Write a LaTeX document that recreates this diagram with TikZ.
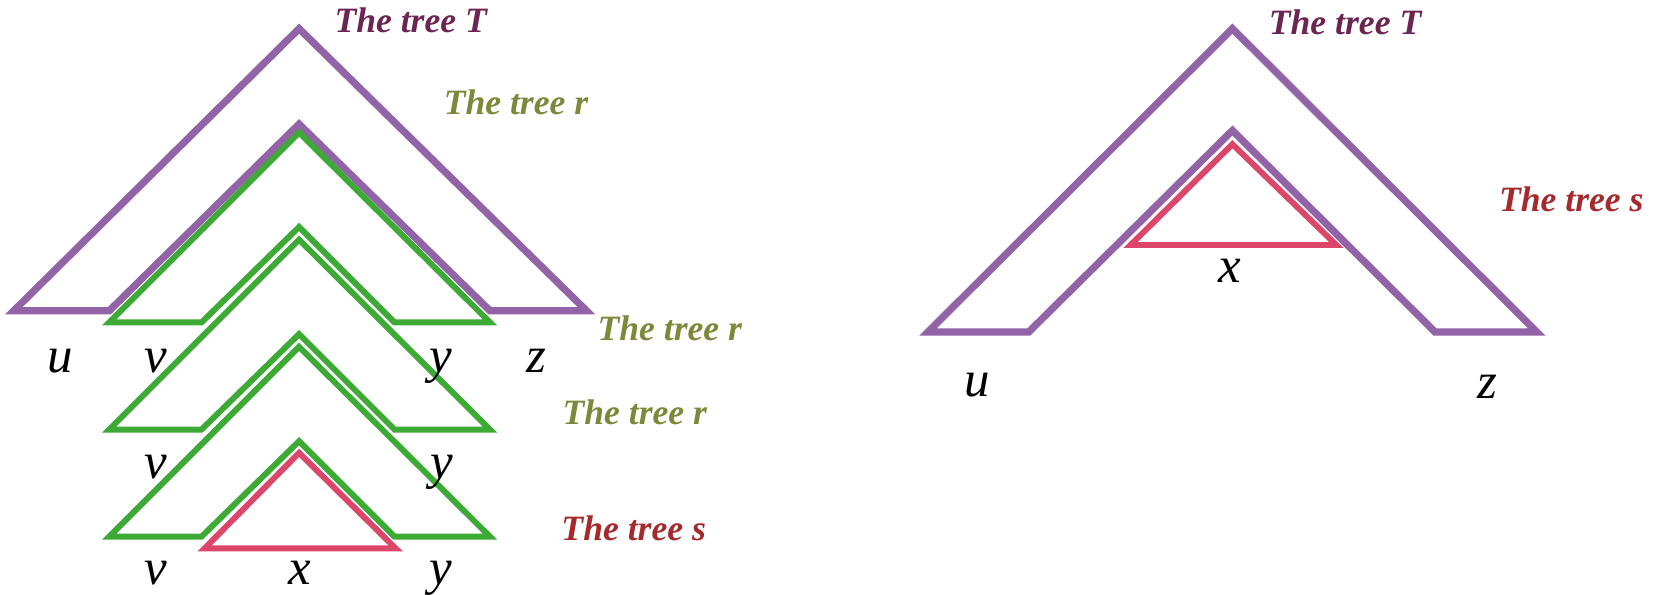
\documentclass[tikz,border=0pt]{standalone}
\usepackage{fontspec}
\setmainfont{Liberation Serif}
\definecolor{treeP}{RGB}{146,99,166}
\definecolor{treeG}{RGB}{61,170,53}
\definecolor{treeR}{RGB}{219,70,106}
\definecolor{labT}{RGB}{107,37,82}
\definecolor{labR}{RGB}{122,138,58}
\definecolor{labS}{RGB}{165,42,46}
\begin{document}
\begin{tikzpicture}[x=0.5pt,y=-0.5pt,line join=miter]
\tikzset{
  purp/.style={draw=treeP,line width=3.4pt},
  grn/.style={draw=treeG,line width=2.8pt},
  redl/.style={draw=treeR,line width=2.8pt},
  lab/.style={font=\fontsize{16.8}{20}\selectfont\bfseries\itshape,inner sep=0pt,anchor=base west},
  lett/.style={font=\fontsize{24}{28}\selectfont\itshape,inner sep=0pt,anchor=base}
}
\useasboundingbox (0,0) rectangle (1568,561);
% left figure
\draw[purp] (13,293) -- (282,27) -- (553,293) -- (462,293) -- (282,117) -- (103,293) -- cycle;
\draw[grn] (103,304) -- (282,125) -- (462,304) -- (372,304) -- (282,214) -- (190,304) -- cycle;
\draw[grn] (103,405) -- (282,226) -- (462,405) -- (372,405) -- (282,315) -- (190,405) -- cycle;
\draw[grn] (103,506) -- (282,327) -- (462,506) -- (372,506) -- (282,416) -- (190,506) -- cycle;
\draw[redl] (193,517) -- (282,427) -- (373,517) -- cycle;
\node[lab,text=labT] (lT) at (315,31) {The tree T};
\node[lab,text=labR] (lr1) at (418,108) {The tree r};
\node[lab,text=labR] (lr2) at (563,321) {The tree r};
\node[lab,text=labR] (lr3) at (530,400) {The tree r};
\node[lab,text=labS] (ls) at (529,510) {The tree s};
\node[lett] (u1) at (57,351) {u};
\node[lett] (v1) at (147,351) {v};
\node[lett] (y1) at (416,351) {y};
\node[lett] (z1) at (506,351) {z};
\node[lett] (v2) at (147,451) {v};
\node[lett] (y2) at (417,451) {y};
\node[lett] (v3) at (147,551) {v};
\node[lett] (x3) at (283,551) {x};
\node[lett] (y3) at (416,551) {y};
% right figure
\draw[purp] (875,313) -- (1162,27) -- (1449,313) -- (1353,313) -- (1162,123) -- (970,313) -- cycle;
\draw[redl] (1066,231) -- (1162,136) -- (1260,231) -- cycle;
\node[lab,text=labT] (rT) at (1196,33) {The tree T};
\node[lab,text=labS] (rs) at (1413,199) {The tree s};
\node[lett] (xr) at (1160,266) {x};
\node[lett] (ur) at (921,374) {u};
\node[lett] (zr) at (1402,376) {z};
\end{tikzpicture}
\end{document}
